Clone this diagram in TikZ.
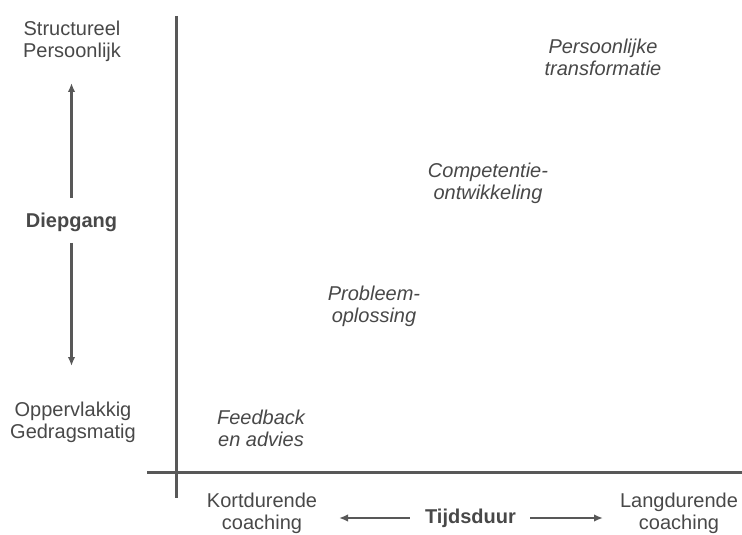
\documentclass[tikz,border=0pt]{standalone}
\usepackage{fontspec}
\setmainfont{Liberation Sans}
\usetikzlibrary{arrows.meta}

\definecolor{inkt}{RGB}{72,72,72}
\definecolor{lijn}{RGB}{88,88,88}

\begin{document}
\begin{tikzpicture}[x=1pt,y=-1pt,
    tekst/.style={text=inkt,font=\fontsize{20}{22}\selectfont,align=center,inner sep=2pt},
    fase/.style={tekst,font=\fontsize{20}{22}\selectfont\itshape},
    kop/.style={tekst,font=\fontsize{20}{22}\selectfont\bfseries},
    assen/.style={lijn,line width=3pt},
    pijl/.style={lijn,line width=2.2pt,-{Latex[length=9pt,width=7.5pt]}}]
    \path[use as bounding box] (0,0) rectangle (742,535);

    % assenkruis
    \coordinate (ytop) at (176,16);
    \coordinate (yvoet) at (176,498);
    \coordinate (xbegin) at (147,472);
    \coordinate (xeind) at (742,472);
    \draw[assen] (ytop) -- (yvoet);
    \draw[assen] (xbegin) -- (xeind);

    % verticale as: diepgang
    \node[tekst] (structureel) at (72,41.8) {Structureel\\Persoonlijk};
    \node[kop] (diepgang) at (71.5,222.2) {Diepgang};
    \node[tekst] (oppervlakkig) at (73,422.8) {Oppervlakkig\\Gedragsmatig};
    \coordinate (optip) at (71.5,83);
    \coordinate (neertip) at (71.5,366);
    \draw[pijl,shorten <=13pt] (diepgang) -- (optip);
    \draw[pijl,shorten <=9pt] (diepgang) -- (neertip);

    % horizontale as: tijdsduur
    \node[tekst] (kort) at (262,513.8) {Kortdurende\\coaching};
    \node[kop] (tijdsduur) at (470.5,518) {Tijdsduur};
    \node[tekst] (lang) at (679,513.8) {Langdurende\\coaching};
    \coordinate (linkstip) at (339,518);
    \coordinate (rechtstip) at (603,518);
    \draw[pijl,shorten <=13pt] (tijdsduur) -- (linkstip);
    \draw[pijl,shorten <=12pt] (tijdsduur) -- (rechtstip);

    % vormen van coaching
    \foreach \i/\x/\y/\txt in {1/261/428/{Feedback\\en advies},
                               2/374/306/{Probleem-\\oplossing},
                               3/488/183/{Competentie-\\ontwikkeling},
                               4/603/57/{Persoonlijke\\transformatie}} {
        \node[fase] (fase\i) at (\x,\y) {\txt};
    }
\end{tikzpicture}
\end{document}
